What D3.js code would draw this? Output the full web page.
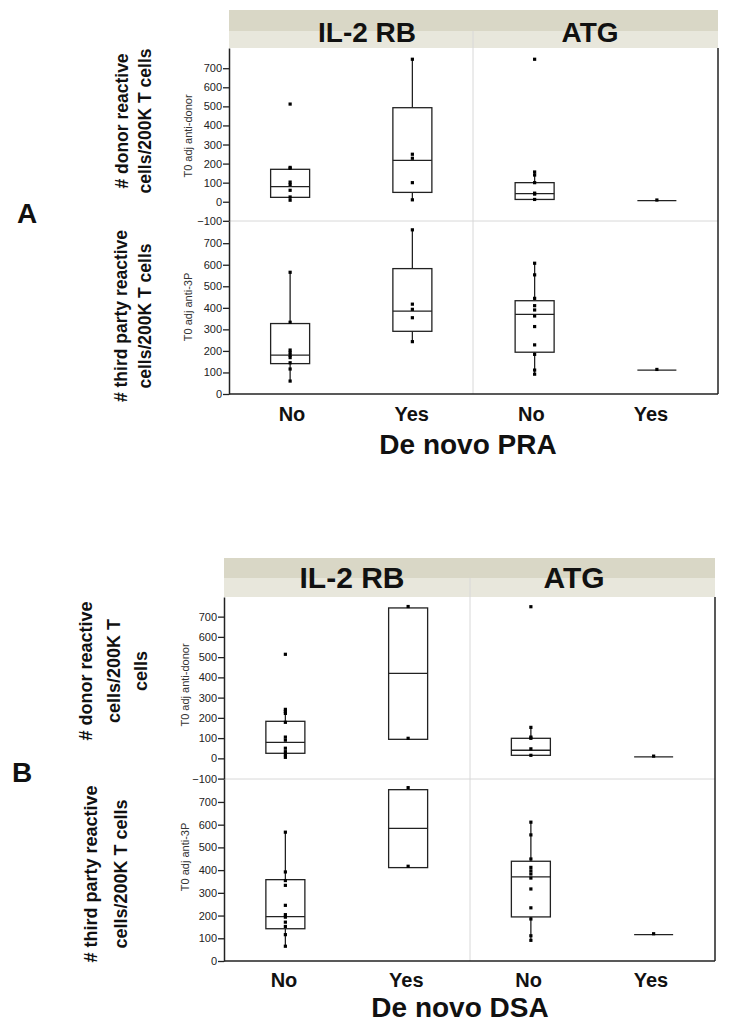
<!DOCTYPE html>
<html><head><meta charset="utf-8">
<script src="https://cdn.jsdelivr.net/npm/d3@7"></script>
<style>body{margin:0;background:#fff} svg{display:block}</style>
</head><body>
<svg id="c" width="730" height="1029"></svg>
<script>
// ---------- DATA ----------
const groups = ["IL-2 RB", "ATG"];
const cats = ["No", "Yes"];
const xLabels = ["No", "Yes", "No ", "Yes "];
const ticksDonor = [-100, 0, 100, 200, 300, 400, 500, 600, 700];
const ticks3P = [0, 100, 200, 300, 400, 500, 600, 700];
const panelLetters = ["A", "B"];
const xTitles = ["De novo PRA", "De novo DSA"];
const rowLabelsA = [["# donor reactive", "cells/200K T cells"], ["# third party reactive", "cells/200K T cells"]];
const rowLabelsB = [["# donor reactive", "cells/200K T", "cells"], ["# third party reactive", "cells/200K T cells"]];
const axisLabels = ["T0 adj anti-donor", "T0 adj anti-3P"];

// group order: IL-2 RB/No, IL-2 RB/Yes, ATG/No, ATG/Yes
// boxes: [low whisker, q1, median, q3, high whisker]
const praDonorPts = [[512, 180, 175, 103, 90, 60, 25, 8], [747, 249, 228, 100, 10], [747, 156, 140, 100, 45, 40, 12], [9]];
const praDonorBox = [[8, 23, 79, 170, 180], [10, 49, 217, 493, 747], [12, 12, 42, 100, 156], [6, 6, 6, 6, 6]];
const pra3PPts = [[565, 333, 204, 193, 180, 169, 145, 116, 60], [762, 417, 393, 354, 243], [607, 553, 444, 410, 390, 362, 313, 228, 184, 111, 92], [114]];
const pra3PBox = [[60, 141, 180, 327, 565], [243, 291, 385, 582, 762], [92, 194, 370, 433, 607], [111, 111, 111, 111, 111]];

const dsaDonorPts = [[514, 242, 232, 222, 178, 105, 90, 50, 33, 18, 5], [750, 99], [749, 153, 105, 99, 47, 15], [11]];
const dsaDonorBox = [[3, 25, 79, 183, 242], [94, 94, 420, 743, 750], [15, 15, 40, 99, 153], [7, 7, 7, 7, 7]];
const dsa3PPts = [[567, 392, 354, 333, 245, 204, 193, 171, 152, 116, 65], [763, 417], [611, 555, 449, 412, 397, 383, 365, 317, 234, 185, 111, 91], [120]];
const dsa3PBox = [[65, 142, 195, 358, 567], [411, 411, 584, 754, 763], [91, 194, 370, 439, 611], [116, 116, 116, 116, 116]];

// ---------- LAYOUT ----------
const FONT = "'Liberation Sans', Arial, Helvetica, sans-serif";
const figs = [
  { letter: panelLetters[0], title: xTitles[0], rows: rowLabelsA,
    data: [[praDonorPts, praDonorBox], [pra3PPts, pra3PBox]],
    left: 229, right: 718, div: 473, hTop: 10, hMid: 31, top: 48, split: 221, bottom: 394,
    upDom: [-101, 806], loDom: [0, 803],
    hx: [367, 590], hBase: 42, hSize: 28,
    lx: [292, 651], lBase: 421, tx: 468, tBase: 454,
    letterX: 17, letterBase: 223,
    rowX: [[122, 145], [121, 145]], rowY: [121, 316], rowSize: 17.5,
    axX: 188, axY: [136, 307] },
  { letter: panelLetters[1], title: xTitles[1], rows: rowLabelsB,
    data: [[dsaDonorPts, dsaDonorBox], [dsa3PPts, dsa3PBox]],
    left: 224, right: 715, div: 470, hTop: 558, hMid: 578, top: 597, split: 779, bottom: 961,
    upDom: [-102, 797], loDom: [0, 801],
    hx: [352, 574], hBase: 588, hSize: 30,
    lx: [284, 651], lBase: 987, tx: 460, tBase: 1017,
    letterX: 12, letterBase: 782,
    rowX: [[86, 114, 141], [91, 121]], rowY: [671, 874], rowSize: 18,
    axX: 185, axY: [685, 857] }
];

const svg = d3.select("#c");

figs.forEach(f => {
  const g = svg.append("g");
  const keys = [];
  groups.forEach(gr => cats.forEach(c => keys.push(gr + "|" + c)));
  const x = d3.scalePoint().domain(keys).range([f.left, f.right]).padding(0.5);
  const boxW = 39;

  // header
  g.append("rect").attr("x", f.left).attr("y", f.hTop).attr("width", f.right - f.left).attr("height", f.hMid - f.hTop).attr("fill", "#d9d7c6");
  g.append("rect").attr("x", f.left).attr("y", f.hMid).attr("width", f.right - f.left).attr("height", f.top - f.hMid).attr("fill", "#e8e7dc");
  groups.forEach((gr, i) => {
    g.append("text").attr("x", f.hx[i]).attr("y", f.hBase).attr("text-anchor", "middle")
      .attr("font-family", FONT).attr("font-weight", "bold").attr("font-size", f.hSize).attr("fill", "#111").text(gr);
  });

  // light divider and split line
  g.append("line").attr("x1", f.div).attr("x2", f.div).attr("y1", f.hMid).attr("y2", f.bottom).attr("stroke", "#d8d8d8").attr("stroke-width", 1);
  g.append("line").attr("x1", f.left).attr("x2", f.right).attr("y1", f.split).attr("y2", f.split).attr("stroke", "#d8d8d8").attr("stroke-width", 1);

  const yScales = [
    d3.scaleLinear().domain(f.upDom).range([f.split, f.top]),
    d3.scaleLinear().domain(f.loDom).range([f.bottom, f.split])
  ];
  const tickSets = [ticksDonor, ticks3P];

  yScales.forEach((y, r) => {
    const ax = g.append("g").attr("transform", `translate(${f.left},0)`)
      .call(d3.axisLeft(y).tickValues(tickSets[r]).tickSize(6).tickSizeOuter(0).tickFormat(d3.format("d")));
    ax.select(".domain").attr("stroke", "#222").attr("stroke-width", 1.5);
    ax.selectAll(".tick line").attr("stroke", "#222").attr("stroke-width", 1.3);
    ax.selectAll(".tick text").attr("font-family", FONT).attr("font-size", 11).attr("fill", "#222").attr("x", -7);

    // axis label (small)
    g.append("text").attr("transform", `translate(${f.axX},${f.axY[r]}) rotate(-90)`)
      .attr("text-anchor", "middle").attr("dominant-baseline", "central")
      .attr("font-family", FONT).attr("font-size", 11).attr("fill", "#333").text(axisLabels[r]);

    // row label (big)
    f.rows[r].forEach((line, li) => {
      g.append("text").attr("transform", `translate(${f.rowX[r][li]},${f.rowY[r]}) rotate(-90)`)
        .attr("text-anchor", "middle").attr("dominant-baseline", "central")
        .attr("font-family", FONT).attr("font-weight", "bold").attr("font-size", f.rowSize).attr("fill", "#111").text(line);
    });

    const [pts, boxes] = f.data[r];
    keys.forEach((k, i) => {
      const cx = x(k);
      const b = boxes[i];
      const bg = g.append("g");
      // whiskers
      bg.append("line").attr("x1", cx).attr("x2", cx).attr("y1", y(b[3])).attr("y2", y(b[4])).attr("stroke", "#222").attr("stroke-width", 1.3);
      bg.append("line").attr("x1", cx).attr("x2", cx).attr("y1", y(b[1])).attr("y2", y(b[0])).attr("stroke", "#222").attr("stroke-width", 1.3);
      // box
      bg.append("rect").attr("x", cx - boxW / 2).attr("y", y(b[3])).attr("width", boxW)
        .attr("height", Math.max(0, y(b[1]) - y(b[3]))).attr("fill", "none").attr("stroke", "#222").attr("stroke-width", 1.3);
      // median
      bg.append("line").attr("x1", cx - boxW / 2).attr("x2", cx + boxW / 2).attr("y1", y(b[2])).attr("y2", y(b[2])).attr("stroke", "#222").attr("stroke-width", 1.3);
      // points
      bg.selectAll("rect.pt").data(pts[i]).enter().append("rect").attr("class", "pt")
        .attr("x", cx - 1.6).attr("y", d => y(d) - 1.6).attr("width", 3.2).attr("height", 3.2).attr("fill", "#000");
    });
  });

  // frame: right and bottom
  g.append("line").attr("x1", f.right).attr("x2", f.right).attr("y1", f.top).attr("y2", f.bottom).attr("stroke", "#222").attr("stroke-width", 1.5);
  g.append("line").attr("x1", f.left).attr("x2", f.right).attr("y1", f.bottom).attr("y2", f.bottom).attr("stroke", "#222").attr("stroke-width", 1.5);

  // x category labels
  const lx = d3.scalePoint().domain(xLabels).range(f.lx);
  xLabels.forEach(l => {
    g.append("text").attr("x", lx(l)).attr("y", f.lBase).attr("text-anchor", "middle")
      .attr("font-family", FONT).attr("font-weight", "bold").attr("font-size", 20).attr("fill", "#111").text(l.trim());
  });
  // x title
  g.append("text").attr("x", f.tx).attr("y", f.tBase).attr("text-anchor", "middle")
    .attr("font-family", FONT).attr("font-weight", "bold").attr("font-size", 28).attr("fill", "#111").text(f.title);
  // panel letter
  g.append("text").attr("x", f.letterX).attr("y", f.letterBase)
    .attr("font-family", FONT).attr("font-weight", "bold").attr("font-size", 28).attr("fill", "#111").text(f.letter);
});
</script>
</body></html>
